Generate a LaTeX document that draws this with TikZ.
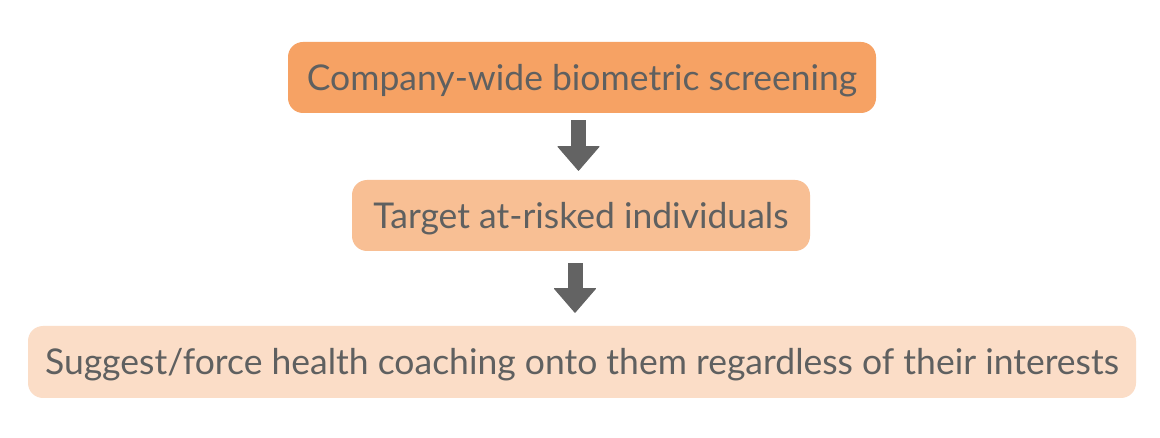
\documentclass[tikz,border=0pt]{standalone}
\usepackage{fontspec}
\setmainfont{Lato}
\usetikzlibrary{arrows.meta}
\definecolor{boxA}{HTML}{F6A264}
\definecolor{boxB}{HTML}{F8BF94}
\definecolor{boxC}{HTML}{FBDDC7}
\definecolor{txt}{HTML}{5F6060}
\definecolor{arr}{HTML}{636363}
\begin{document}
\begin{tikzpicture}[x=1pt,y=-1pt,
  stepbox/.style={draw=none, rounded corners=15pt, inner sep=0pt, minimum height=71pt,
    text=txt, font=\fontsize{35.5}{38}\selectfont, text height=25.5pt, text depth=0pt},
  bigarrow/.style={draw=arr, line width=15pt, line cap=butt,
    -{Triangle[width=43pt,length=25pt,line width=1pt,round]}}]
\useasboundingbox[fill=white] (0,0) rectangle (1160,438);
\node[stepbox, fill=boxA, minimum width=588pt] (b1) at (582,77.5) {Company-wide biometric screening};
\node[stepbox, fill=boxB, minimum width=458pt] (b2) at (581,215.5) {Target at-risked individuals};
\node[stepbox, fill=boxC, minimum width=1108pt, minimum height=72pt] (b3) at (582,362) {Suggest/force health coaching onto them regardless of their interests};
\draw[bigarrow] ([xshift=-3.5pt,yshift=-7pt]b1.south) -- ([xshift=-2.5pt,yshift=9pt]b2.north);
\draw[bigarrow] ([xshift=-6pt,yshift=-12pt]b2.south) -- ([xshift=-7pt,yshift=13pt]b3.north);
\end{tikzpicture}
\end{document}
